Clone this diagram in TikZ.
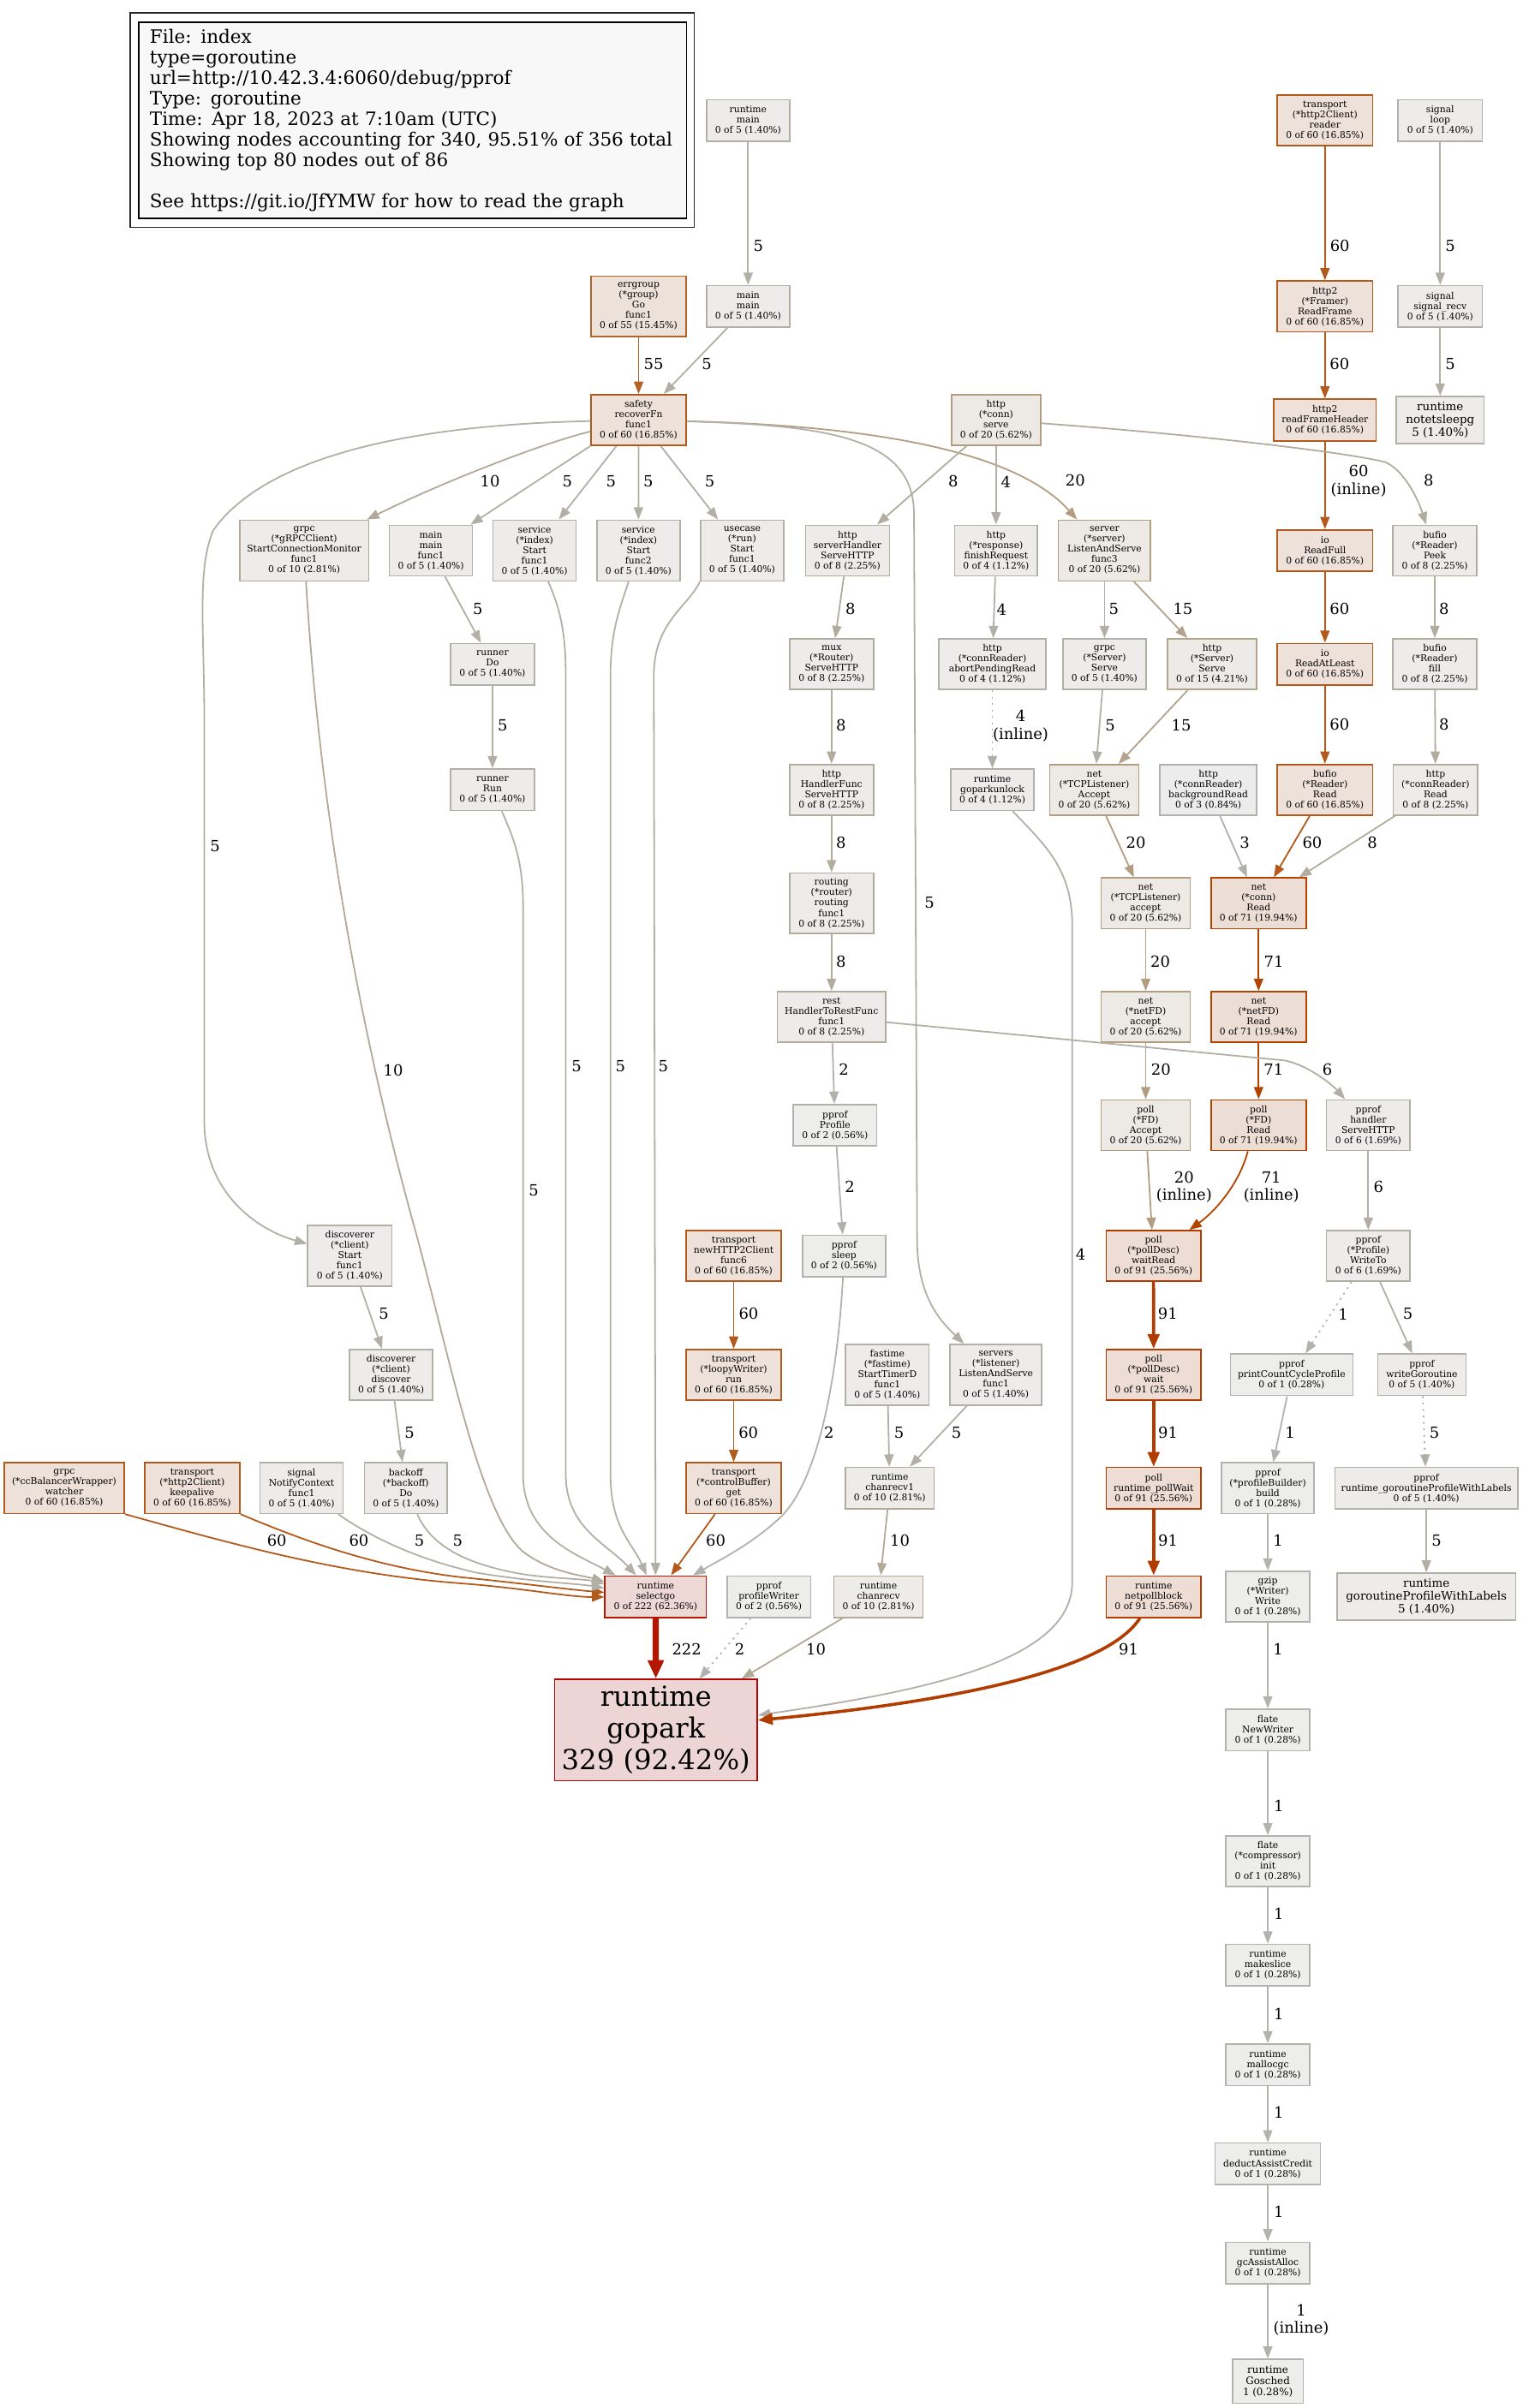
\documentclass[tikz,border=0pt]{standalone}
\usepackage{fontspec}
\setmainfont{DejaVu Serif}
\usetikzlibrary{arrows.meta}
\definecolor{bg1}{HTML}{EDEDEC}
\definecolor{bg2}{HTML}{EDEDEC}
\definecolor{bg3}{HTML}{EDECEC}
\definecolor{bg4}{HTML}{EDECEB}
\definecolor{bg5}{HTML}{EDECEB}
\definecolor{bg6}{HTML}{EDECEB}
\definecolor{bg8}{HTML}{EDECEA}
\definecolor{bg10}{HTML}{EDECE9}
\definecolor{bg15}{HTML}{EDEBE8}
\definecolor{bg20}{HTML}{EDEAE6}
\definecolor{bg55}{HTML}{EDE2DA}
\definecolor{bg60}{HTML}{EDE1D9}
\definecolor{bg71}{HTML}{EDDED5}
\definecolor{bg91}{HTML}{EDDDD5}
\definecolor{bg222}{HTML}{EDD8D5}
\definecolor{bg329}{HTML}{EDD5D5}
\definecolor{fg1}{HTML}{B2B2AF}
\definecolor{fg2}{HTML}{B2B1AD}
\definecolor{fg3}{HTML}{B2B0AA}
\definecolor{fg4}{HTML}{B2AFA8}
\definecolor{fg5}{HTML}{B2AFA6}
\definecolor{fg6}{HTML}{B2AEA3}
\definecolor{fg8}{HTML}{B2AC9E}
\definecolor{fg10}{HTML}{B2A999}
\definecolor{fg15}{HTML}{B2A38C}
\definecolor{fg20}{HTML}{B29D80}
\definecolor{fg55}{HTML}{B26328}
\definecolor{fg60}{HTML}{B25A1C}
\definecolor{fg71}{HTML}{B24400}
\definecolor{fg91}{HTML}{B23B00}
\definecolor{fg222}{HTML}{B21700}
\definecolor{fg329}{HTML}{B20400}
\definecolor{legfill}{HTML}{F8F8F8}
\begin{document}
\begin{tikzpicture}[x=1pt,y=-1pt,
  nd/.style={draw, rectangle, inner sep=0pt, align=center, line width=0.9pt, font=\fontsize{6}{6.7}\selectfont},
  h3/.style={minimum height=27}, h4/.style={minimum height=33}, h5/.style={minimum height=39.5},
  k1/.style={fill=bg1,draw=fg1}, k2/.style={fill=bg2,draw=fg2}, k3/.style={fill=bg3,draw=fg3},
  k4/.style={fill=bg4,draw=fg4}, k5/.style={fill=bg5,draw=fg5}, k6/.style={fill=bg6,draw=fg6},
  k8/.style={fill=bg8,draw=fg8}, k10/.style={fill=bg10,draw=fg10}, k15/.style={fill=bg15,draw=fg15},
  k20/.style={fill=bg20,draw=fg20}, k55/.style={fill=bg55,draw=fg55}, k60/.style={fill=bg60,draw=fg60},
  k71/.style={fill=bg71,draw=fg71}, k91/.style={fill=bg91,draw=fg91}, k222/.style={fill=bg222,draw=fg222},
  k329/.style={fill=bg329,draw=fg329},
  lbl/.style={inner sep=0pt, align=center, text=black, font=\fontsize{10}{11.5}\selectfont},
  ea/.style={line width=1pt, -{Triangle[length=8pt,width=6pt]}},
  e1/.style={ea, draw=fg1}, e2/.style={ea, draw=fg2}, e3/.style={ea, draw=fg3}, e4/.style={ea, draw=fg4},
  e5/.style={ea, draw=fg5}, e6/.style={ea, draw=fg6}, e8/.style={ea, draw=fg8}, e10/.style={ea, draw=fg10},
  e15/.style={ea, draw=fg15}, e20/.style={ea, draw=fg20}, e55/.style={ea, draw=fg55}, e60/.style={ea, draw=fg60},
  e71/.style={ea, draw=fg71},
  e91/.style={draw=fg91, line width=2pt, -{Triangle[length=9.5pt,width=7.5pt]}},
  e222/.style={draw=fg222, line width=4pt, -{Triangle[length=12pt,width=10pt]}},
  dotl/.style={dash pattern=on 1.2pt off 3pt}
]
\useasboundingbox (0,0) rectangle (991,1568);
\fill[white] (0,0) rectangle (991,1568);

% legend
\node[draw=black!85, line width=0.9pt, minimum width=367.3, minimum height=139.6, inner sep=0pt] (legframe) at (268.35,78.2) {};
\node[draw=black, fill=legfill, line width=0.9pt, text width=342.3, inner xsep=7.15, inner ysep=0pt, minimum height=127.8, align=left, font=\fontsize{12}{13.4}\selectfont] (legend) at (268.7,78.4) {File: index\\type=goroutine\\url=http://10.42.3.4:6060/debug/pprof\\Type: goroutine\\Time: Apr 18, 2023 at 7:10am (UTC)\\Showing nodes accounting for 340, 95.51\% of 356 total\\Showing top 80 nodes out of 86\\~\\See https://git.io/JfYMW for how to read the graph};

% row 1
\node[nd,k5,h3,minimum width=54] (rtmain) at (487,78.4) {runtime\\main\\0 of 5 (1.40\%)};
\node[nd,k60,h4,minimum width=62] (reader) at (862.5,78.4) {transport\\(*http2Client)\\reader\\0 of 60 (16.85\%)};
\node[nd,k5,h3,minimum width=54.7] (sigloop) at (937.5,78.4) {signal\\loop\\0 of 5 (1.40\%)};
% row 2
\node[nd,k55,h5,minimum width=62] (errgroup) at (415.7,199.5) {errgroup\\(*group)\\Go\\func1\\0 of 55 (15.45\%)};
\node[nd,k5,h3,minimum width=54] (mainmain) at (487,199.5) {main\\main\\0 of 5 (1.40\%)};
\node[nd,k60,h4,minimum width=62] (readframe) at (862.5,199.5) {http2\\(*Framer)\\ReadFrame\\0 of 60 (16.85\%)};
\node[nd,k5,h3,minimum width=54.7] (sigrecv) at (937.5,199.5) {signal\\signal\_recv\\0 of 5 (1.40\%)};
% row 3
\node[nd,k60,h4,minimum width=62] (safety) at (415.7,273.5) {safety\\recoverFn\\func1\\0 of 60 (16.85\%)};
\node[nd,k20,h4,minimum width=58] (httpserve) at (648.4,273.5) {http\\(*conn)\\serve\\0 of 20 (5.62\%)};
\node[nd,k60,h3,minimum width=66.5] (rfh) at (862.5,273.5) {http2\\readFrameHeader\\0 of 60 (16.85\%)};
\node[nd,k5,minimum height=30.6,minimum width=57,font=\fontsize{7.5}{8.4}\selectfont] (notetsleepg) at (937.5,273.5) {runtime\\notetsleepg\\5 (1.40\%)};
% row 4
\node[nd,k10,h5,minimum width=84] (grpcscm) at (198,358.5) {grpc\\(*gRPCClient)\\StartConnectionMonitor\\func1\\0 of 10 (2.81\%)};
\node[nd,k5,h4,minimum width=54] (mf1) at (280.5,358.5) {main\\main\\func1\\0 of 5 (1.40\%)};
\node[nd,k5,h5,minimum width=54] (svc1) at (348,358.5) {service\\(*index)\\Start\\func1\\0 of 5 (1.40\%)};
\node[nd,k5,h5,minimum width=54] (svc2) at (415.6,358.5) {service\\(*index)\\Start\\func2\\0 of 5 (1.40\%)};
\node[nd,k5,h5,minimum width=54] (usecase) at (483.1,358.5) {usecase\\(*run)\\Start\\func1\\0 of 5 (1.40\%)};
\node[nd,k8,h4,minimum width=54.6] (srvh) at (551.7,358.5) {http\\serverHandler\\ServeHTTP\\0 of 8 (2.25\%)};
\node[nd,k4,h4,minimum width=54] (finreq) at (648.4,358.5) {http\\(*response)\\finishRequest\\0 of 4 (1.12\%)};
\node[nd,k20,h5,minimum width=60] (las3) at (719,358.5) {server\\(*server)\\ListenAndServe\\func3\\0 of 20 (5.62\%)};
\node[nd,k60,h3,minimum width=62] (readfull) at (862.5,358.5) {io\\ReadFull\\0 of 60 (16.85\%)};
\node[nd,k8,h4,minimum width=54.5] (peek) at (934,358.5) {bufio\\(*Reader)\\Peek\\0 of 8 (2.25\%)};
% row 5
\node[nd,k5,h3,minimum width=54.5] (rdo) at (320.6,432.5) {runner\\Do\\0 of 5 (1.40\%)};
\node[nd,k8,h4,minimum width=54.6] (mux) at (541.3,432.5) {mux\\(*Router)\\ServeHTTP\\0 of 8 (2.25\%)};
\node[nd,k4,h4,minimum width=70] (abort) at (646,432.5) {http\\(*connReader)\\abortPendingRead\\0 of 4 (1.12\%)};
\node[nd,k5,h4,minimum width=54] (gserve) at (719,432.5) {grpc\\(*Server)\\Serve\\0 of 5 (1.40\%)};
\node[nd,k15,h4,minimum width=58] (hserve) at (789,432.5) {http\\(*Server)\\Serve\\0 of 15 (4.21\%)};
\node[nd,k60,h3,minimum width=62] (ral) at (862.5,432.5) {io\\ReadAtLeast\\0 of 60 (16.85\%)};
\node[nd,k8,h4,minimum width=54.5] (fill) at (934,432.5) {bufio\\(*Reader)\\fill\\0 of 8 (2.25\%)};
% row 6
\node[nd,k5,h3,minimum width=54.5] (rrun) at (320.6,514.3) {runner\\Run\\0 of 5 (1.40\%)};
\node[nd,k8,h4,minimum width=54.6] (hfunc) at (541.3,514.3) {http\\HandlerFunc\\ServeHTTP\\0 of 8 (2.25\%)};
\node[nd,k4,h3,minimum width=54] (gpu) at (646,514.3) {runtime\\goparkunlock\\0 of 4 (1.12\%)};
\node[nd,k20,h4,minimum width=58] (tcpA) at (712.3,514.3) {net\\(*TCPListener)\\Accept\\0 of 20 (5.62\%)};
\node[nd,k3,h4,minimum width=63] (bgread) at (786.6,514.3) {http\\(*connReader)\\backgroundRead\\0 of 3 (0.84\%)};
\node[nd,k60,h4,minimum width=62] (bread) at (862.5,514.3) {bufio\\(*Reader)\\Read\\0 of 60 (16.85\%)};
\node[nd,k8,h4,minimum width=55] (crread) at (934.5,514.3) {http\\(*connReader)\\Read\\0 of 8 (2.25\%)};
% row 7
\node[nd,k8,h5,minimum width=54.6] (routing) at (541.3,588.2) {routing\\(*router)\\routing\\func1\\0 of 8 (2.25\%)};
\node[nd,k20,h4,minimum width=58] (tcpa) at (745.8,588.2) {net\\(*TCPListener)\\accept\\0 of 20 (5.62\%)};
\node[nd,k71,h4,minimum width=62] (connread) at (819.3,588.2) {net\\(*conn)\\Read\\0 of 71 (19.94\%)};
% row 8
\node[nd,k8,h4,minimum width=70.5] (rest) at (541.3,662.2) {rest\\HandlerToRestFunc\\func1\\0 of 8 (2.25\%)};
\node[nd,k20,h4,minimum width=58] (nfda) at (745.8,662.2) {net\\(*netFD)\\accept\\0 of 20 (5.62\%)};
\node[nd,k71,h4,minimum width=62] (nfdr) at (819.3,662.2) {net\\(*netFD)\\Read\\0 of 71 (19.94\%)};
% row 9
\node[nd,k2,h3,minimum width=54.4] (pprofile) at (543.6,732.7) {pprof\\Profile\\0 of 2 (0.56\%)};
\node[nd,k20,h4,minimum width=58] (fdaccept) at (745.8,732.7) {poll\\(*FD)\\Accept\\0 of 20 (5.62\%)};
\node[nd,k71,h4,minimum width=62] (fdread) at (819.3,732.7) {poll\\(*FD)\\Read\\0 of 71 (19.94\%)};
\node[nd,k6,h4,minimum width=54.4] (handler) at (890.7,732.7) {pprof\\handler\\ServeHTTP\\0 of 6 (1.69\%)};
% row 10
\node[nd,k5,h5,minimum width=54.7] (dstart) at (227.7,817.8) {discoverer\\(*client)\\Start\\func1\\0 of 5 (1.40\%)};
\node[nd,k60,h4,minimum width=61.8] (newh2) at (477.6,817.8) {transport\\newHTTP2Client\\func6\\0 of 60 (16.85\%)};
\node[nd,k2,h3,minimum width=54] (sleep) at (549.5,817.8) {pprof\\sleep\\0 of 2 (0.56\%)};
\node[nd,k91,h4,minimum width=61.7] (waitread) at (750.9,817.8) {poll\\(*pollDesc)\\waitRead\\0 of 91 (25.56\%)};
\node[nd,k6,h4,minimum width=54.4] (writeto) at (890.7,817.8) {pprof\\(*Profile)\\WriteTo\\0 of 6 (1.69\%)};
% row 11
\node[nd,k5,h4,minimum width=54] (discover) at (254.6,895.2) {discoverer\\(*client)\\discover\\0 of 5 (1.40\%)};
\node[nd,k60,h4,minimum width=61.8] (loopy) at (477.6,895.2) {transport\\(*loopyWriter)\\run\\0 of 60 (16.85\%)};
\node[nd,k5,h5,minimum width=54.3] (fastime) at (577.6,895.2) {fastime\\(*fastime)\\StartTimerD\\func1\\0 of 5 (1.40\%)};
\node[nd,k5,h5,minimum width=59.5] (servers) at (648.3,895.2) {servers\\(*listener)\\ListenAndServe\\func1\\0 of 5 (1.40\%)};
\node[nd,k91,h4,minimum width=61.7] (wait) at (751,895.2) {poll\\(*pollDesc)\\wait\\0 of 91 (25.56\%)};
\node[nd,k1,h3,minimum width=79.7] (pccp) at (840.8,895.2) {pprof\\printCountCycleProfile\\0 of 1 (0.28\%)};
\node[nd,k5,h3,minimum width=57.4] (wg) at (925.6,895.2) {pprof\\writeGoroutine\\0 of 5 (1.40\%)};
% row 12
\node[nd,k60,h4,minimum width=78.3] (ccb) at (41.8,969) {grpc\\(*ccBalancerWrapper)\\watcher\\0 of 60 (16.85\%)};
\node[nd,k60,h4,minimum width=62] (keepalive) at (125.1,969) {transport\\(*http2Client)\\keepalive\\0 of 60 (16.85\%)};
\node[nd,k5,h4,minimum width=54] (notify) at (196.3,969) {signal\\NotifyContext\\func1\\0 of 5 (1.40\%)};
\node[nd,k5,h4,minimum width=54] (backoff) at (264.2,969) {backoff\\(*backoff)\\Do\\0 of 5 (1.40\%)};
\node[nd,k60,h4,minimum width=61.8] (cbget) at (477.6,969) {transport\\(*controlBuffer)\\get\\0 of 60 (16.85\%)};
\node[nd,k10,h3,minimum width=57.6] (chanrecv1) at (579.2,969) {runtime\\chanrecv1\\0 of 10 (2.81\%)};
\node[nd,k91,h3,minimum width=61.7] (pollwait) at (751,969) {poll\\runtime\_pollWait\\0 of 91 (25.56\%)};
\node[nd,k1,h4,minimum width=60.2] (build) at (825.3,969) {pprof\\(*profileBuilder)\\build\\0 of 1 (0.28\%)};
\node[nd,k5,h3,minimum width=119] (rgpwl) at (928.5,969) {pprof\\runtime\_goroutineProfileWithLabels\\0 of 5 (1.40\%)};
% row 13
\node[nd,k222,h3,minimum width=66] (selectgo) at (426.8,1039.7) {runtime\\selectgo\\0 of 222 (62.36\%)};
\node[nd,k2,h3,minimum width=54.5] (pwriter) at (500.5,1039.7) {pprof\\profileWriter\\0 of 2 (0.56\%)};
\node[nd,k10,h3,minimum width=58] (chanrecv) at (571.9,1039.7) {runtime\\chanrecv\\0 of 10 (2.81\%)};
\node[nd,k91,h3,minimum width=61.7] (npb) at (751,1039.7) {runtime\\netpollblock\\0 of 91 (25.56\%)};
\node[nd,k1,h4,minimum width=54.5] (gzip) at (825.3,1039.7) {gzip\\(*Writer)\\Write\\0 of 1 (0.28\%)};
\node[nd,k5,minimum height=30.5,minimum width=116.3,font=\fontsize{7.5}{8.4}\selectfont] (gpwl) at (928.5,1039.7) {runtime\\goroutineProfileWithLabels\\5 (1.40\%)};
% row 14 and below
\node[nd,k329,minimum height=66,minimum width=132,font=\fontsize{18}{20.5}\selectfont] (gopark) at (427,1126.5) {runtime\\gopark\\329 (92.42\%)};
\node[nd,k1,h3,minimum width=54.5] (newwriter) at (825.3,1126.5) {flate\\NewWriter\\0 of 1 (0.28\%)};
\node[nd,k1,h4,minimum width=54.5] (compressor) at (825.3,1212) {flate\\(*compressor)\\init\\0 of 1 (0.28\%)};
\node[nd,k1,h3,minimum width=54.5] (makeslice) at (825.3,1279.6) {runtime\\makeslice\\0 of 1 (0.28\%)};
\node[nd,k1,h3,minimum width=54.5] (mallocgc) at (825.3,1344.5) {runtime\\mallocgc\\0 of 1 (0.28\%)};
\node[nd,k1,h3,minimum width=68.5] (deduct) at (825.3,1409) {runtime\\deductAssistCredit\\0 of 1 (0.28\%)};
\node[nd,k1,h3,minimum width=54.5] (gcassist) at (825.3,1473.5) {runtime\\gcAssistAlloc\\0 of 1 (0.28\%)};
\node[nd,k1,minimum height=28.7,minimum width=46,font=\fontsize{6.6}{7.2}\selectfont] (gosched) at (825.3,1550.6) {runtime\\Gosched\\1 (0.28\%)};

% ---------- edges ----------
\draw[e5] (rtmain) -- (mainmain) node[lbl,at={(493.6,160)}] {5};
\draw[e55] (errgroup) -- (safety) node[lbl,at={(425.5,237)}] {55};
\draw[e5] (mainmain) -- (safety) node[lbl,at={(460,237)}] {5};
\draw[e60] (reader) -- (readframe) node[lbl,at={(872.2,160)}] {60};
\draw[e60] (readframe) -- (rfh) node[lbl,at={(872,237)}] {60};
\draw[e60] (rfh) -- (readfull) node[lbl,at={(884.4,313.3)}] {60\\(inline)};
\draw[e60] (readfull) -- (ral) node[lbl,at={(872,396.2)}] {60};
\draw[e60] (ral) -- (bread) node[lbl,at={(872,471.7)}] {60};
\draw[e5] (sigloop) -- (sigrecv) node[lbl,at={(944,160)}] {5};
\draw[e5] (sigrecv) -- (notetsleepg) node[lbl,at={(944,237)}] {5};

% safety fan-out
\draw[e10] (safety) .. controls (355,288) and (290,313) .. (grpcscm) node[lbl,at={(319,313.6)}] {10};
\draw[e5] (safety) .. controls (300,276) and (180,288) .. (139,345) .. controls (128,370) and (133,410) .. (133,470) -- (133,730) .. controls (133,775) and (165,800) .. (dstart) node[lbl,at={(140,551)}] {5};
\draw[e5] (safety.south west) -- (mf1) node[lbl,at={(369.3,313.6)}] {5};
\draw[e5] ([xshift=17]safety.south west) -- (svc1) node[lbl,at={(397.8,313.6)}] {5};
\draw[e5] (safety) -- (svc2) node[lbl,at={(422,313.6)}] {5};
\draw[e5] ([xshift=-17]safety.south east) -- (usecase) node[lbl,at={(462,313.6)}] {5};
\draw[e20] (safety) .. controls (560,277) and (660,292) .. (las3) node[lbl,at={(700,313)}] {20};
\draw[e5] (safety) .. controls (540,277) and (595,285) .. (595,335) -- (597,810) .. controls (598,845) and (612,860) .. (servers) node[lbl,at={(605,587.5)}] {5};

% http serve
\draw[e8] (httpserve) -- (srvh) node[lbl,at={(620.5,313.6)}] {8};
\draw[e4] (httpserve) -- (finreq) node[lbl,at={(654.8,313.6)}] {4};
\draw[e8] (httpserve) .. controls (780,283) and (880,295) .. (902,301) .. controls (913,306) and (922,322) .. (peek) node[lbl,at={(930,313)}] {8};

\draw[e5] (las3) -- (gserve) node[lbl,at={(725,396.5)}] {5};
\draw[e15] (las3) -- (hserve) node[lbl,at={(770,396.5)}] {15};
\draw[e8] (srvh) -- (mux) node[lbl,at={(553.6,396.7)}] {8};
\draw[e4] (finreq) -- (abort) node[lbl,at={(652,396.7)}] {4};
\draw[e5] (mf1) -- (rdo) node[lbl,at={(311,396.7)}] {5};
\draw[e5] (rdo) -- (rrun) node[lbl,at={(327.2,472.4)}] {5};

% into selectgo from above
\draw[e5] (rrun) .. controls (334,545) and (340.5,560) .. (340.5,590) -- (340.5,960) .. controls (340.5,1000) and (375,1012) .. (selectgo) node[lbl,at={(347.5,775)}] {5};
\draw[e5] (svc1) .. controls (364,395) and (368.3,410) .. (368.3,440) -- (368.3,960) .. controls (368.3,995) and (395,1005) .. (selectgo) node[lbl,at={(375.3,694.4)}] {5};
\draw[e5] (svc2) .. controls (404,395) and (397.4,410) .. (397.4,440) -- (397.4,960) .. controls (397.4,995) and (412,1005) .. (selectgo) node[lbl,at={(403.9,694.4)}] {5};
\draw[e5] (usecase.south west) .. controls (448,395) and (425.6,405) .. (425.6,440) -- (selectgo) node[lbl,at={(431.8,694.4)}] {5};
\draw[e10] (grpcscm) .. controls (210,560) and (245,710) .. (270,800) .. controls (292,880) and (312,985) .. (340,1010) .. controls (358,1024) and (380,1026) .. (selectgo) node[lbl,at={(256,697)}] {10};

\draw[e5] (dstart) -- (discover) node[lbl,at={(249.9,855.6)}] {5};
\draw[e5] (discover) -- (backoff) node[lbl,at={(266.6,932.7)}] {5};
\draw[e60] (ccb.south east) .. controls (150,1005) and (220,1025) .. (300,1031) .. controls (340,1034) and (370,1040) .. (selectgo) node[lbl,at={(180.2,1003.3)}] {60};
\draw[e60] (keepalive.south east) .. controls (190,1000) and (240,1020) .. (300,1027) .. controls (340,1031) and (370,1035) .. (selectgo) node[lbl,at={(233.6,1003.3)}] {60};
\draw[e5] (notify) .. controls (240,1000) and (270,1015) .. (310,1024) .. controls (345,1030) and (375,1031) .. (selectgo) node[lbl,at={(273,1003.3)}] {5};
\draw[e5] (backoff) .. controls (280,1005) and (300,1018) .. (340,1025) .. controls (360,1028) and (380,1028) .. (selectgo) node[lbl,at={(297.9,1003.3)}] {5};

\draw[e60] (newh2) -- (loopy) node[lbl,at={(487.3,855.6)}] {60};
\draw[e60] (loopy) -- (cbget) node[lbl,at={(487.2,932.7)}] {60};
\draw[e60] (cbget) -- (selectgo) node[lbl,at={(465.9,1003.3)}] {60};
\draw[e2] (rest) -- (pprofile) node[lbl,at={(549.3,696.2)}] {2};
\draw[e2] (pprofile) -- (sleep) node[lbl,at={(553.2,772.6)}] {2};
\draw[e2] (sleep) .. controls (545,900) and (532,965) .. (508,988) .. controls (490,1005) and (470,1015) .. (selectgo) node[lbl,at={(539.7,932.7)}] {2};

\draw[e8] (mux) -- (hfunc) node[lbl,at={(547.5,472.4)}] {8};
\draw[e8] (hfunc) -- (routing) node[lbl,at={(547.5,548.9)}] {8};
\draw[e8] (routing) -- (rest) node[lbl,at={(547.5,626.2)}] {8};
\draw[e4,dotl] (abort) -- (gpu) node[lbl,at={(664.4,472.6)}] {4\\(inline)};
\draw[e4] (gpu) .. controls (680,550) and (697,565) .. (698,600) -- (698,1030) .. controls (698,1080) and (610,1100) .. (gopark) node[lbl,at={(703.4,816.6)}] {4};

\draw[e5] (gserve) -- (tcpA) node[lbl,at={(722.7,472.2)}] {5};
\draw[e15] (hserve) -- (tcpA) node[lbl,at={(769,472)}] {15};
\draw[e20] (tcpA) -- (tcpa) node[lbl,at={(739.4,548.9)}] {20};
\draw[e3] (bgread) -- (connread) node[lbl,at={(810.3,548.9)}] {3};
\draw[e60] (bread) -- (connread) node[lbl,at={(854.2,548.9)}] {60};
\draw[e8] (crread) -- (connread) node[lbl,at={(893.3,548.9)}] {8};
\draw[e8] (fill) -- (crread) node[lbl,at={(940,471.7)}] {8};
\draw[e8] (peek) -- (fill) node[lbl,at={(940,396.2)}] {8};
\draw[e20] (tcpa) -- (nfda) node[lbl,at={(755.3,626.2)}] {20};
\draw[e71] (connread) -- (nfdr) node[lbl,at={(829.2,626.2)}] {71};
\draw[e20] (nfda) -- (fdaccept) node[lbl,at={(755.7,696.2)}] {20};
\draw[e71] (nfdr) -- (fdread) node[lbl,at={(829.1,696.2)}] {71};
\draw[e6] (rest) -- (836,690.5) .. controls (850,693) and (866,705) .. (handler) node[lbl,at={(864,696.2)}] {6};
\draw[e20] (fdaccept) -- (waitread) node[lbl,at={(770.8,773)}] {20\\(inline)};
\draw[e71] ([xshift=-7]fdread.south) .. controls (807,770) and (792,788) .. (waitread) node[lbl,at={(827.6,773)}] {71\\(inline)};
\draw[e6] (handler) -- (writeto) node[lbl,at={(897.4,772.6)}] {6};
\draw[e91] (waitread) -- (wait) node[lbl,at={(760.2,855.6)}] {91};
\draw[e91] (wait) -- (pollwait) node[lbl,at={(760.3,932.7)}] {91};
\draw[e91] (pollwait) -- (npb) node[lbl,at={(760.3,1003.3)}] {91};
\draw[e91] (npb) .. controls (720,1088) and (620,1108) .. (gopark) node[lbl,at={(734.7,1074)}] {91};

\draw[e10] (chanrecv) -- (gopark) node[lbl,at={(531.2,1074)}] {10};
\draw[e2,dotl] (pwriter) -- (gopark) node[lbl,at={(481.6,1074)}] {2};
\draw[e222] (selectgo) -- (gopark) node[lbl,at={(447,1074)}] {222};
\draw[e5] (fastime) -- (chanrecv1) node[lbl,at={(585.3,932.7)}] {5};
\draw[e5] (servers) -- (chanrecv1) node[lbl,at={(622.6,932.7)}] {5};
\draw[e10] (chanrecv1) -- (chanrecv) node[lbl,at={(585.8,1003.3)}] {10};
\draw[e1,dotl] (writeto) -- (pccp) node[lbl,at={(874.4,855.6)}] {1};
\draw[e5] (writeto) -- (wg) node[lbl,at={(916.4,855.6)}] {5};
\draw[e1] (pccp) -- (build) node[lbl,at={(839.8,932.7)}] {1};
\draw[e5,dotl] (wg) -- (rgpwl) node[lbl,at={(933.7,932.7)}] {5};
\draw[e1] (build) -- (gzip) node[lbl,at={(832,1003.3)}] {1};
\draw[e5] (rgpwl) -- (gpwl) node[lbl,at={(935.2,1003.3)}] {5};
\draw[e1] (gzip) -- (newwriter) node[lbl,at={(832,1074)}] {1};
\draw[e1] (newwriter) -- (compressor) node[lbl,at={(832.4,1175.8)}] {1};
\draw[e1] (compressor) -- (makeslice) node[lbl,at={(832.4,1246.3)}] {1};
\draw[e1] (makeslice) -- (mallocgc) node[lbl,at={(832.4,1311.2)}] {1};
\draw[e1] (mallocgc) -- (deduct) node[lbl,at={(832.4,1375.6)}] {1};
\draw[e1] (deduct) -- (gcassist) node[lbl,at={(832.4,1440.3)}] {1};
\draw[e1] (gcassist) -- (gosched) node[lbl,at={(847,1510.6)}] {1\\(inline)};
\end{tikzpicture}
\end{document}
